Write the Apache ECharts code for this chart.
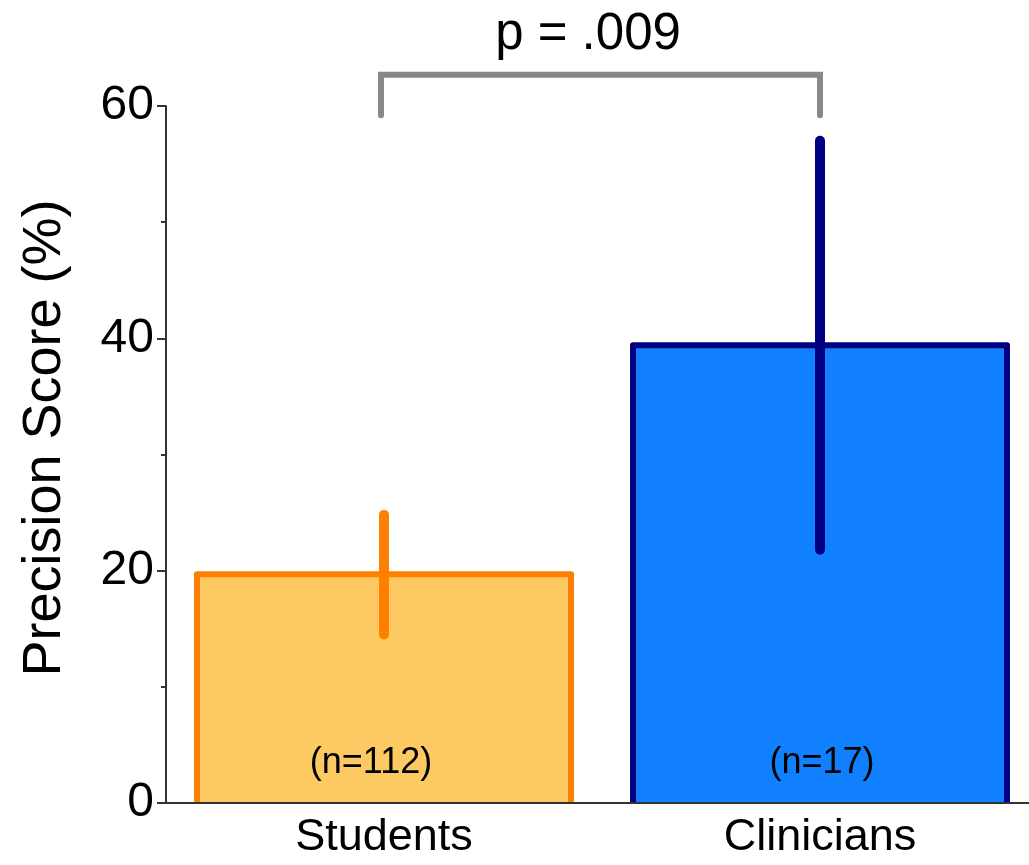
<!DOCTYPE html>
<html>
<head>
    <meta charset="utf-8">
    <title>Precision Score</title>
    <script src="https://cdn.jsdelivr.net/npm/echarts@6/dist/echarts.min.js"></script>
    <style type="text/css">
    html, body { margin: 0; padding: 0; background: #fff; overflow: hidden; }
    </style>
</head>
<body>
    <div id="main" style="width: 1045px;height:865px;"></div>
    <script type="text/javascript">
        // 数据
        var categories = ['Students', 'Clinicians'];
        var means = [19.7, 39.4];
        var errLow = [14.5, 21.8];
        var errHigh = [24.8, 57.0];
        var nLabels = ['(n=112)', '(n=17)'];
        var fillColors = ['#FDC962', '#1080FF'];
        var edgeColors = ['#FF8000', '#000080'];
        // 显著性括号：左右类别、下端和顶端的数值
        var bracket = [0, 1, 59.2, 62.7];
        var pText = 'p = .009';
        var pValueY = 66.1;

        var font = 'Liberation Sans, Arial, sans-serif';
        var halfBar = 187;
        var labelShift = [-13, 2];
        var myChart = echarts.init(document.getElementById('main'));

        var option = {
            animation: false,
            grid: { left: 166, width: 872, top: 106, bottom: 62 },
            xAxis: {
                type: 'category',
                data: categories,
                axisLine: { lineStyle: { color: '#333', width: 2 } },
                axisTick: { alignWithLabel: true, length: 9, lineStyle: { color: '#333', width: 2 } },
                axisLabel: { fontSize: 45, color: '#000', fontFamily: font, margin: 12 },
                z: 10
            },
            yAxis: {
                type: 'value',
                min: 0, max: 60, interval: 20,
                splitLine: { show: false },
                axisLine: { show: true, lineStyle: { color: '#333', width: 2 } },
                axisTick: { show: true, length: 9, lineStyle: { color: '#333', width: 2 } },
                minorTick: { show: true, splitNumber: 2, length: 5, lineStyle: { color: '#333', width: 2 } },
                axisLabel: { fontSize: 48, color: '#000', fontFamily: font, margin: 12 }
            },
            graphic: [{
                type: 'text',
                x: 45, y: 438,
                rotation: Math.PI / 2,
                style: {
                    text: 'Precision Score (%)',
                    fontSize: 54, fontFamily: font, fill: '#000',
                    align: 'center', verticalAlign: 'middle'
                }
            }],
            series: [{
                type: 'bar',
                barWidth: halfBar * 2,
                data: means.map(function (v, i) {
                    return {
                        value: v,
                        itemStyle: { color: fillColors[i] },
                        label: { offset: [labelShift[i], 0] }
                    };
                }),
                label: {
                    show: true,
                    position: 'insideBottom',
                    distance: 22,
                    fontSize: 36, fontFamily: font, color: '#000',
                    formatter: function (p) { return nLabels[p.dataIndex]; }
                },
                z: 2
            }, {
                // 柱子边框（左、上、右）
                type: 'custom',
                data: categories.map(function (c, i) { return [i, means[i]]; }),
                renderItem: function (params, api) {
                    var base = api.coord([api.value(0), 0]);
                    var top = api.coord([api.value(0), api.value(1)]);
                    var x0 = top[0] - halfBar, x1 = top[0] + halfBar;
                    return {
                        type: 'polyline',
                        shape: { points: [[x0, base[1]], [x0, top[1]], [x1, top[1]], [x1, base[1]]] },
                        style: { stroke: edgeColors[params.dataIndex], lineWidth: 6, fill: null, lineJoin: 'round' }
                    };
                },
                z: 3
            }, {
                // 误差线
                type: 'custom',
                data: categories.map(function (c, i) { return [i, errLow[i], errHigh[i]]; }),
                renderItem: function (params, api) {
                    var lo = api.coord([api.value(0), api.value(1)]);
                    var hi = api.coord([api.value(0), api.value(2)]);
                    return {
                        type: 'line',
                        shape: { x1: lo[0], y1: lo[1], x2: hi[0], y2: hi[1] },
                        style: { stroke: edgeColors[params.dataIndex], lineWidth: 10, lineCap: 'round' }
                    };
                },
                z: 4
            }, {
                // 显著性括号
                type: 'custom',
                clip: false,
                data: [bracket],
                renderItem: function (params, api) {
                    var a = api.coord([api.value(0), api.value(2)]);
                    var b = api.coord([api.value(1), api.value(2)]);
                    var topY = api.coord([api.value(0), api.value(3)])[1];
                    var textY = api.coord([api.value(0), pValueY])[1];
                    return {
                        type: 'group',
                        children: [{
                            type: 'polyline',
                            shape: { points: [[a[0] - 3, a[1]], [a[0] - 3, topY], [b[0], topY], [b[0], b[1]]] },
                            style: { stroke: '#888', lineWidth: 6, fill: null, lineCap: 'round', lineJoin: 'miter' }
                        }, {
                            type: 'text',
                            x: (a[0] + b[0]) / 2 - 14, y: textY,
                            style: {
                                text: pText, fontSize: 51, fontFamily: font, fill: '#000',
                                align: 'center', verticalAlign: 'middle'
                            }
                        }]
                    };
                },
                z: 5
            }]
        };
        myChart.setOption(option);
    </script>
</body>
</html>
